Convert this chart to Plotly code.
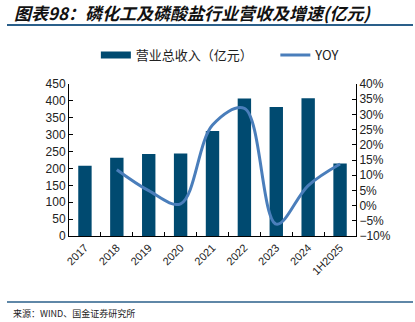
import plotly.graph_objects as go

categories = ["2017", "2018", "2019", "2020", "2021", "2022", "2023", "2024", "1H2025"]
revenue = [208, 232, 243, 244, 311, 407, 382, 408, 215]
yoy = [None, 11.8, 4.9, 0.6, 26.5, 32.0, -6.1, 6.6, 13.7]

bar_name = "营业总收入（亿元）"
line_name = "YOY"
title_text = "图表98：磷化工及磷酸盐行业营收及增速(亿元)"
source_text = "来源：WIND、国金证券研究所"

BAR_COLOR = "#004A70"
LINE_COLOR = "#4A7EBB"
RULE_COLOR = "#2A5F8A"
FONT = "Liberation Sans, Arial, sans-serif"
CJK = "Noto Sans CJK SC"

fig = go.Figure()
fig.add_trace(go.Bar(
    x=categories, y=revenue, name=bar_name,
    marker=dict(color=BAR_COLOR, line=dict(width=0)),
    width=0.42, yaxis="y", showlegend=False,
))
# legend proxy for the bar series (wide rectangular swatch); trailing nbsp widen the gap
fig.add_trace(go.Scatter(
    x=[None], y=[None], name=bar_name + "\u00a0" * 6, mode="lines",
    line=dict(color=BAR_COLOR, width=7), yaxis="y", showlegend=True,
))
fig.add_trace(go.Scatter(
    x=categories, y=yoy, name=line_name, mode="lines",
    line=dict(color=LINE_COLOR, width=3, shape="spline", smoothing=1.0),
    yaxis="y2", connectgaps=False,
))

fig.update_layout(
    width=415, height=322,
    margin=dict(l=69, r=59, t=84, b=86, autoexpand=False),
    paper_bgcolor="white", plot_bgcolor="white",
    showlegend=True,
    legend=dict(
        orientation="h", x=0.531, xanchor="center", y=(322 - 55) / 322, yanchor="middle",
        xref="container", yref="container",
        font=dict(family=CJK, size=13, color="#222"),
        itemwidth=30, bgcolor="rgba(0,0,0,0)",
    ),
    xaxis=dict(
        type="category", showline=True, linecolor="black", linewidth=1,
        ticks="inside", ticklen=4, tickson="boundaries", tickcolor="black",
        tickangle=-45, tickfont=dict(family=FONT, size=11, color="#222"),
        showgrid=False,
    ),
    yaxis=dict(
        range=[0, 450], dtick=50, showline=True, linecolor="black", linewidth=1,
        ticks="inside", ticklen=4, tickcolor="black", showgrid=False, zeroline=False,
        tickfont=dict(family=FONT, size=12, color="#222"),
    ),
    yaxis2=dict(
        range=[-10, 40], dtick=5, overlaying="y", side="right",
        showline=True, linecolor="black", linewidth=1,
        ticks="inside", ticklen=4, tickcolor="black", showgrid=False, zeroline=False,
        ticksuffix="%", tickfont=dict(family=FONT, size=12, color="#222"),
    ),
)

fig.add_annotation(
    text="<b><i>" + title_text + "</i></b>", xref="paper", yref="paper",
    x=-57 / 287, y=1 + (84 - 12) / 152, xanchor="left", yanchor="middle",
    showarrow=False, font=dict(family=CJK, size=17, color="#111"),
)
fig.add_annotation(
    text=source_text, xref="paper", yref="paper",
    x=-58 / 287, y=-(313 - 236) / 152, xanchor="left", yanchor="middle",
    showarrow=False, font=dict(family=CJK, size=9, color="#222"),
)
fig.add_shape(type="line", xref="paper", yref="paper",
              x0=-62 / 287, x1=1 + 57 / 287, y0=1 + (84 - 25) / 152, y1=1 + (84 - 25) / 152,
              line=dict(color=RULE_COLOR, width=2))
fig.add_shape(type="line", xref="paper", yref="paper",
              x0=-62 / 287, x1=1 + 57 / 287, y0=-(302 - 236) / 152, y1=-(302 - 236) / 152,
              line=dict(color=RULE_COLOR, width=1.5))

fig.write_html("out.html")
